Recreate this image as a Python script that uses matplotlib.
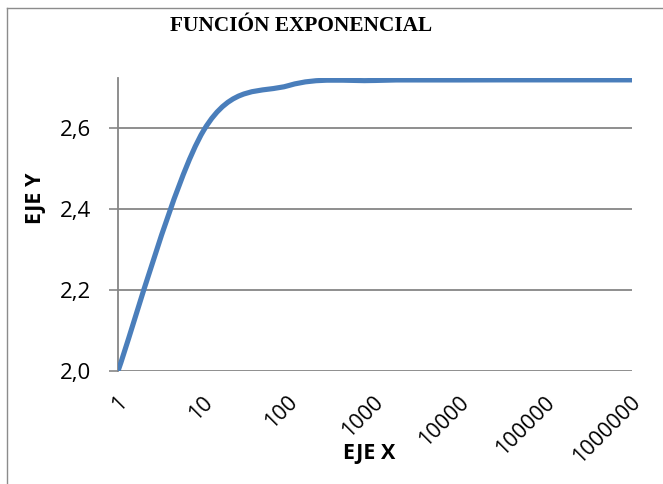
import matplotlib
matplotlib.use("Agg")
import matplotlib.pyplot as plt
from matplotlib.path import Path
from matplotlib.patches import PathPatch
from matplotlib.lines import Line2D
import matplotlib.transforms as mtransforms
import numpy as np

categories = ["1", "10", "100", "1000", "10000", "100000", "1000000"]
values = [2.0, 2.5937, 2.7048, 2.7169, 2.7181, 2.7183, 2.7183]
y_ticks = [2.0, 2.2, 2.4, 2.6]
y_tick_labels = ["2,0", "2,2", "2,4", "2,6"]

W, H = 663, 484
fig = plt.figure(figsize=(W / 100, H / 100), dpi=100)
fig.patch.set_facecolor("white")

# outer chart border (left and top visible)
fig.add_artist(Line2D([7 / W, 7 / W], [0, 1 - 8 / H], transform=fig.transFigure, color="#8c8c8c", lw=1.0))
fig.add_artist(Line2D([7 / W, 1], [1 - 8 / H, 1 - 8 / H], transform=fig.transFigure, color="#8c8c8c", lw=1.0))

left, right, top, bottom = 118, 632, 78, 371
ax = fig.add_axes([left / W, 1 - bottom / H, (right - left) / W, (bottom - top) / H])

x = np.arange(len(categories))
# Excel-style smoothed line: cubic Bezier through the data points (Catmull-Rom control points)
pts = np.column_stack([x, values]).astype(float)
verts = [tuple(pts[0])]
codes = [Path.MOVETO]
n = len(pts)
for i in range(n - 1):
    p0 = pts[i - 1] if i > 0 else pts[i]
    p1 = pts[i]
    p2 = pts[i + 1]
    p3 = pts[i + 2] if i + 2 < n else pts[i + 1]
    c1 = p1 + (p2 - p0) / 6.0
    c2 = p2 - (p3 - p1) / 6.0
    verts += [tuple(c1), tuple(c2), tuple(p2)]
    codes += [Path.CURVE4] * 3
ax.add_patch(PathPatch(Path(verts, codes), facecolor="none", edgecolor="#4A7EBB",
                       lw=3.7, capstyle="butt", joinstyle="round", zorder=3))

ax.set_xlim(0, len(categories) - 1)
ax.set_ylim(2.0, 2.723)
ax.set_yticks(y_ticks)
ax.set_yticklabels(y_tick_labels, fontsize=16, family="Open Sans")
ax.set_xticks(x)
ax.set_xticklabels(categories, fontsize=15.5, family="Open Sans", rotation=45,
                   ha="right", va="top", rotation_mode="anchor")
ax.tick_params(axis="x", length=0, pad=15)
ax.tick_params(axis="y", length=6.5, width=1.2, color="#868686", pad=13, direction="out")
offset = mtransforms.ScaledTranslation(-2 / 100, 0, fig.dpi_scale_trans)
for lab in ax.get_xticklabels():
    lab.set_transform(lab.get_transform() + offset)

ax.grid(axis="y", color="#868686", lw=1.3)
ax.set_axisbelow(True)
for s in ["top", "right", "bottom"]:
    ax.spines[s].set_visible(False)
ax.spines["left"].set_color("#868686")
ax.spines["left"].set_linewidth(1.3)

fig.text(369 / W, 1 - 454 / H, "EJE X", fontsize=15.5, fontweight="bold", family="Open Sans",
         ha="center", va="center")
fig.text(35 / W, 1 - 198 / H, "EJE Y", fontsize=15.5, fontweight="bold", family="Open Sans",
         ha="center", va="center", rotation=90)
fig.text(301 / W, 1 - 26 / H, "FUNCIÓN EXPONENCIAL", fontsize=15.3, fontweight="bold",
         family="Liberation Serif", ha="center", va="center")

fig.savefig("out.png", dpi=100, facecolor="white")
